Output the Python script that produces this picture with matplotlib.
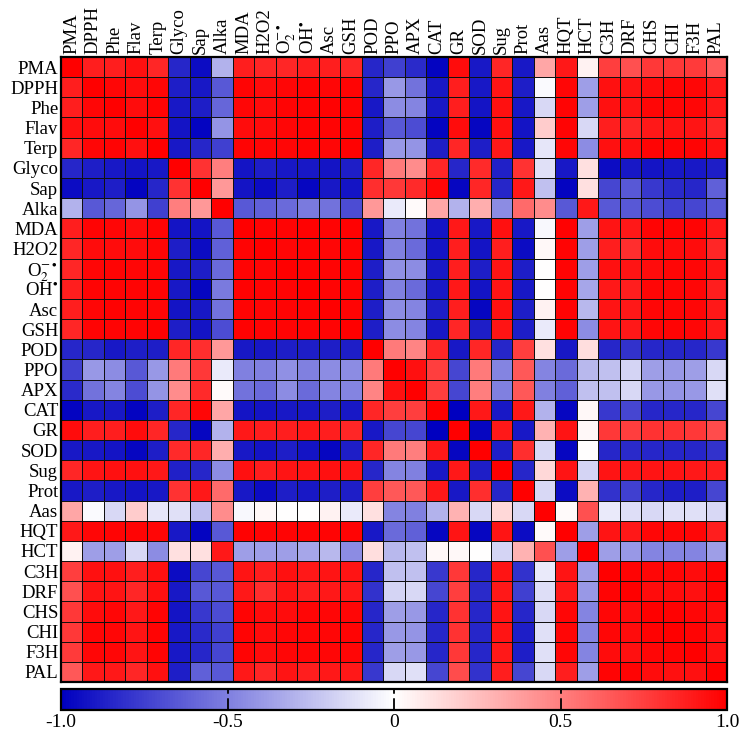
import matplotlib
matplotlib.use("Agg")
import matplotlib.pyplot as plt
import numpy as np
from matplotlib.colors import LinearSegmentedColormap

# -----------------------------
# DATA (upper triangle, row i holds columns i..30)
# -----------------------------
labels = ["PMA", "DPPH", "Phe", "Flav", "Terp", "Glyco", "Sap", "Alka", "MDA",
          "H2O2", r"O$_2^{-\bullet}$", r"OH$^{\bullet}$", "Asc", "GSH", "POD",
          "PPO", "APX", "CAT", "GR", "SOD", "Sug", "Prot", "Aas", "HQT", "HCT",
          "C3H", "DRF", "CHS", "CHI", "F3H", "PAL"]

upper = [
    [1, .88, .88, .93, .85, -.85, -.95, -.30, .88, .85, .85, .88, .88, .85, -.85, -.75, -.83, -.98, .95, -.90, .85, -.90, .35, .90, .05, .75, .68, .78, .78, .77, .65],
    [1, .97, .95, .97, -.88, -.90, -.65, .98, .95, .97, .98, .97, .98, -.85, -.40, -.55, -.90, .88, -.90, .92, -.88, -.02, .97, -.38, .93, .92, .95, .97, .97, .90],
    [1, .95, .98, -.90, -.88, -.60, .97, .95, .98, .98, .99, .98, -.90, -.45, -.48, -.90, .88, -.92, .93, -.90, -.15, .98, -.38, .93, .92, .97, .97, .97, .90],
    [1, .93, -.92, -.98, -.42, .95, .95, .97, .98, .98, .98, -.88, -.65, -.70, -.98, .95, -.97, .93, -.92, .20, .98, -.15, .88, .85, .90, .92, .92, .85],
    [1, -.90, -.85, -.75, .98, .97, .97, .98, .97, .99, -.88, -.40, -.42, -.88, .85, -.88, .90, -.90, -.10, .97, -.45, .93, .93, .98, .98, .98, .93],
    [1, .80, .50, -.92, -.88, -.90, -.90, -.92, -.88, .85, .52, .45, .85, -.85, .83, -.87, .80, -.12, -.90, .12, -.95, -.90, -.92, -.90, -.90, -.88],
    [1, .40, -.92, -.95, -.88, -.97, -.90, -.92, .82, .78, .83, .97, -.97, .85, -.85, .90, -.25, -.98, .12, -.72, -.65, -.78, -.83, -.85, -.62],
    [1, -.65, -.62, -.58, -.52, -.55, -.70, .40, -.08, .02, .35, -.30, .32, -.45, .58, .45, -.65, .90, -.65, -.65, -.70, -.75, -.72, -.65],
    [1, .98, .98, .99, .98, .99, -.90, -.50, -.55, -.92, .90, -.90, .93, -.90, -.03, .99, -.38, .92, .90, .98, .98, .98, .90],
    [1, .97, .98, .97, .98, -.90, -.50, -.58, -.92, .88, -.92, .88, -.95, .03, .98, -.38, .88, .82, .95, .95, .95, .85],
    [1, .98, .98, .98, -.88, -.43, -.45, -.90, .88, -.88, .92, -.88, .00, .98, -.38, .93, .92, .95, .97, .97, .92],
    [1, .98, .98, -.88, -.50, -.58, -.90, .90, -.92, .92, -.90, .00, .98, -.35, .90, .88, .97, .97, .97, .88],
    [1, .98, -.88, -.45, -.48, -.88, .88, -.97, .93, -.88, .05, .98, -.28, .92, .90, .97, .97, .97, .90],
    [1, -.88, -.45, -.48, -.90, .85, -.88, .92, -.88, -.08, .98, -.45, .92, .90, .97, .98, .97, .90],
    [1, .52, .48, .85, -.90, .85, -.85, .75, .12, -.90, .13, -.85, -.80, -.85, -.85, -.85, -.78],
    [1, .93, .75, -.72, .52, -.48, .65, -.48, -.58, -.28, -.25, -.17, -.38, -.40, -.38, -.15],
    [1, .75, -.72, .50, -.50, .65, -.50, -.62, -.25, -.25, -.15, -.40, -.42, -.40, -.12],
    [1, -1.0, .90, -.90, .90, -.30, -.97, .03, -.78, -.72, -.85, -.85, -.85, -.72],
    [1, -.97, .90, -.90, .30, .92, .03, .78, .75, .80, .80, .78, .70],
    [1, -.88, .82, -.15, -.97, .00, -.85, -.83, -.85, -.85, -.85, -.80],
    [1, -.85, .15, .92, -.17, .92, .90, .92, .92, .90, .88],
    [1, -.15, -.95, .30, -.80, -.75, -.85, -.88, -.88, -.72],
    [1, .02, .68, -.08, -.13, -.15, -.12, -.12, -.15],
    [1, -.38, .92, .90, .97, .97, .97, .88],
    [1, -.38, -.40, -.48, -.48, -.48, -.38],
    [1, .98, .97, .97, .95, .98],
    [1, .95, .95, .93, .98],
    [1, .99, .97, .95],
    [1, .98, .93],
    [1, .93],
    [1],
]

cbar_ticks = [-1.0, -0.5, 0, 0.5, 1.0]
cbar_ticklabels = ["-1.0", "-0.5", "0", "0.5", "1.0"]

# build symmetric matrix
n = len(labels)
corr = np.zeros((n, n))
for i, row in enumerate(upper):
    corr[i, i:] = row
    corr[i:, i] = row

# -----------------------------
# PLOTTING
# -----------------------------
plt.rcParams["font.family"] = ["Liberation Serif", "DejaVu Serif"]
plt.rcParams["mathtext.fontset"] = "stix"

cmap = LinearSegmentedColormap.from_list("bwr_dark", ["#0000C0", "#FFFFFF", "#FF0000"])

fig = plt.figure(figsize=(7.44, 7.38), dpi=100)
ax = fig.add_axes([61 / 744, 1 - 682 / 738, 666 / 744, 625 / 738])
mesh = ax.pcolormesh(corr, cmap=cmap, vmin=-1, vmax=1,
                     edgecolors="#111111", linewidth=0.7)
ax.set_xlim(0, n)
ax.set_ylim(n, 0)
ax.set_xticks(np.arange(n) + 0.5)
ax.set_yticks(np.arange(n) + 0.5)
ax.set_xticklabels(labels, rotation=90, fontsize=13.5)
ax.set_yticklabels(labels, fontsize=13.5)
ax.xaxis.tick_top()
ax.tick_params(length=0, pad=2)
for s in ax.spines.values():
    s.set_linewidth(1.6)

# colour bar
cax = fig.add_axes([61 / 744, 1 - 710 / 738, 666 / 744, 21 / 738])
cb = fig.colorbar(mesh, cax=cax, orientation="horizontal")
cb.set_ticks(cbar_ticks)
cb.set_ticklabels(cbar_ticklabels)
cax.tick_params(length=0, labelsize=14, pad=3)
cb.outline.set_linewidth(1.6)
for t in cbar_ticks[1:-1]:
    cax.axvline(t, color="black", linewidth=1.3, dashes=(6.5, 2.5))

fig.savefig("out.png", dpi=100)
